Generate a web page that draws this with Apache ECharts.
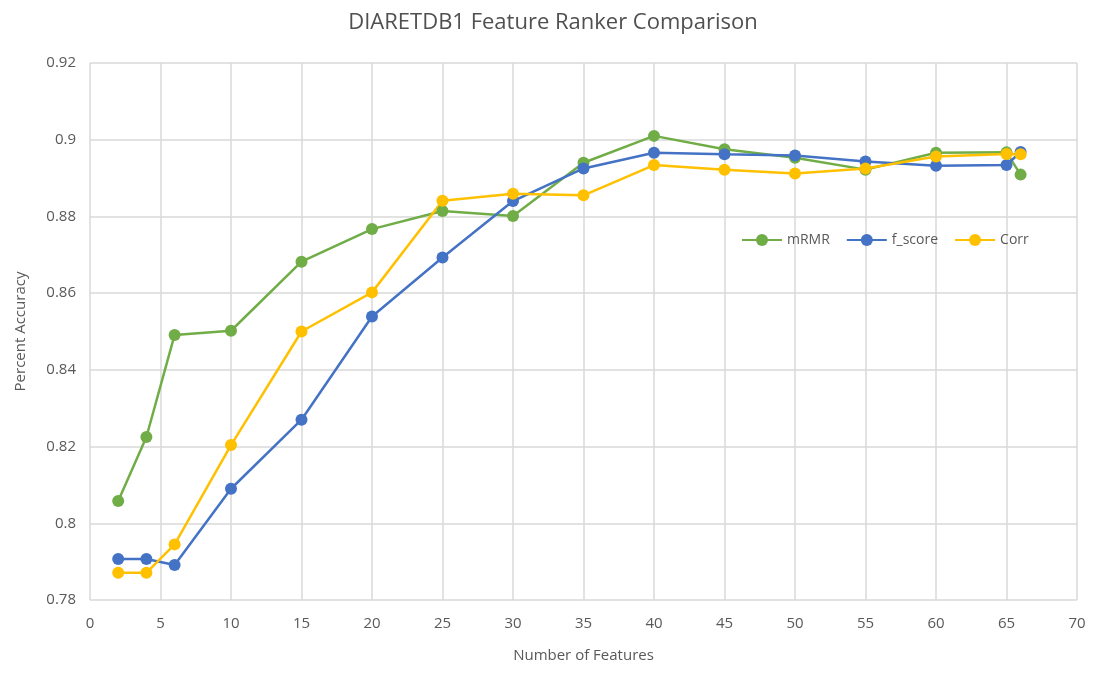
<!DOCTYPE html>
<html>
<head>
<meta charset="utf-8">
<script src="https://cdn.jsdelivr.net/npm/echarts@6/dist/echarts.min.js"></script>
<style>
  html, body { margin: 0; padding: 0; background: #fff; }
  #chart { width: 1106px; height: 676px; }
</style>
</head>
<body>
<div id="chart"></div>
<script>
// number of features tested
var features = [2, 4, 6, 10, 15, 20, 25, 30, 35, 40, 45, 50, 55, 60, 65, 66];

var mrmr   = [0.8058, 0.8225, 0.8491, 0.8502, 0.8682, 0.8767, 0.8814, 0.8801, 0.8940, 0.9010, 0.8975, 0.8953, 0.8922, 0.8966, 0.8967, 0.8909];
var fscore = [0.7907, 0.7907, 0.7891, 0.8090, 0.8270, 0.8539, 0.8693, 0.8840, 0.8925, 0.8966, 0.8962, 0.8959, 0.8943, 0.8932, 0.8934, 0.8968];
var corr   = [0.7871, 0.7871, 0.7945, 0.8204, 0.8500, 0.8602, 0.8841, 0.8859, 0.8855, 0.8934, 0.8922, 0.8912, 0.8925, 0.8956, 0.8963, 0.8962];

var names  = ['mRMR', 'f_score', 'Corr'];
var colors = ['#70ad47', '#4472c4', '#ffc000'];

function pairs(vals) {
  return features.map(function (f, i) { return [f, vals[i]]; });
}

var txt = '#595959';
var font = '"Open Sans", "Liberation Sans", sans-serif';

var myChart = echarts.init(document.getElementById('chart'));

var option = {
  backgroundColor: '#fff',
  textStyle: { fontFamily: font },
  title: {
    text: 'DIARETDB1 Feature Ranker Comparison',
    left: 'center',
    top: 7,
    textStyle: { color: '#505050', fontSize: 22, fontWeight: 'normal', fontFamily: font }
  },
  legend: {
    data: names,
    left: 736,
    top: 228,
    itemWidth: 40,
    itemHeight: 15,
    itemGap: 16,
    textStyle: { color: txt, fontSize: 14, fontFamily: font }
  },
  grid: { left: 90, right: 29, top: 63, bottom: 76 },
  xAxis: {
    type: 'value',
    min: 0,
    max: 70,
    interval: 5,
    name: 'Number of Features',
    nameLocation: 'middle',
    nameGap: 48,
    nameTextStyle: { color: txt, fontSize: 15, fontFamily: font },
    axisLine: { show: false },
    axisTick: { show: false },
    axisLabel: { color: txt, fontSize: 15, margin: 16, fontFamily: font },
    splitLine: { show: true, lineStyle: { color: '#d9d9d9', width: 1.5 } }
  },
  yAxis: {
    type: 'value',
    min: 0.78,
    max: 0.92,
    interval: 0.02,
    name: 'Percent Accuracy',
    nameLocation: 'middle',
    nameGap: 62,
    nameTextStyle: { color: txt, fontSize: 15, fontFamily: font },
    axisLine: { show: false },
    axisTick: { show: false },
    axisLabel: { color: txt, fontSize: 15, margin: 14, fontFamily: font },
    splitLine: { show: true, lineStyle: { color: '#d9d9d9', width: 1.5 } }
  },
  series: [mrmr, fscore, corr].map(function (vals, i) {
    return {
      name: names[i],
      type: 'line',
      data: pairs(vals),
      symbol: 'circle',
      symbolSize: 12,
      color: colors[i],
      lineStyle: { width: 2.5, color: colors[i] },
      itemStyle: { color: colors[i] }
    };
  })
};

myChart.setOption(option);
</script>
</body>
</html>
